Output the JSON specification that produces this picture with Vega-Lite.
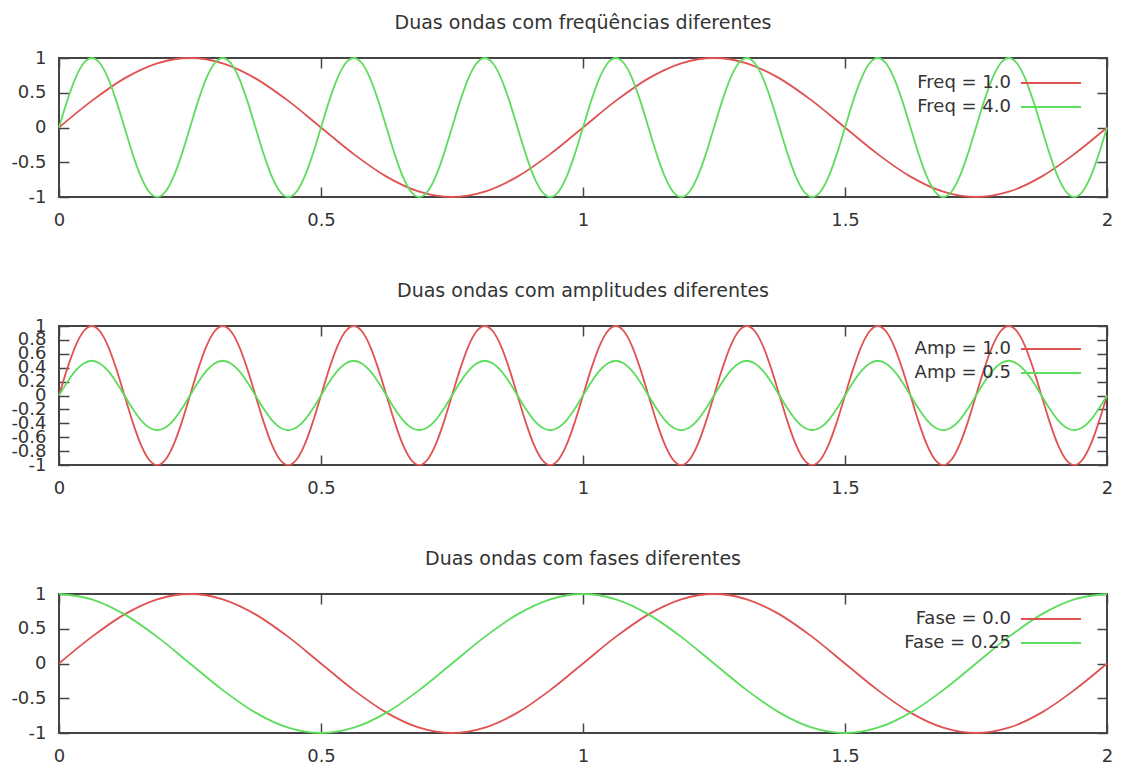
{
  "$schema": "https://vega.github.io/schema/vega-lite/v6.json",
  "padding": {"left": 9, "top": 13, "right": 5, "bottom": 5},
  "background": "white",
  "datasets": {
    "seno1": [
      {"x":0,"y":0},{"x":0.0625,"y":0.3827},{"x":0.125,"y":0.7071},{"x":0.1875,"y":0.9239},
      {"x":0.25,"y":1},{"x":0.3125,"y":0.9239},{"x":0.375,"y":0.7071},{"x":0.4375,"y":0.3827},
      {"x":0.5,"y":0},{"x":0.5625,"y":-0.3827},{"x":0.625,"y":-0.7071},{"x":0.6875,"y":-0.9239},
      {"x":0.75,"y":-1},{"x":0.8125,"y":-0.9239},{"x":0.875,"y":-0.7071},{"x":0.9375,"y":-0.3827},
      {"x":1,"y":0},{"x":1.0625,"y":0.3827},{"x":1.125,"y":0.7071},{"x":1.1875,"y":0.9239},
      {"x":1.25,"y":1},{"x":1.3125,"y":0.9239},{"x":1.375,"y":0.7071},{"x":1.4375,"y":0.3827},
      {"x":1.5,"y":0},{"x":1.5625,"y":-0.3827},{"x":1.625,"y":-0.7071},{"x":1.6875,"y":-0.9239},
      {"x":1.75,"y":-1},{"x":1.8125,"y":-0.9239},{"x":1.875,"y":-0.7071},{"x":1.9375,"y":-0.3827},
      {"x":2,"y":0}
    ],
    "cosseno1": [
      {"x":0,"y":1},{"x":0.0625,"y":0.9239},{"x":0.125,"y":0.7071},{"x":0.1875,"y":0.3827},
      {"x":0.25,"y":0},{"x":0.3125,"y":-0.3827},{"x":0.375,"y":-0.7071},{"x":0.4375,"y":-0.9239},
      {"x":0.5,"y":-1},{"x":0.5625,"y":-0.9239},{"x":0.625,"y":-0.7071},{"x":0.6875,"y":-0.3827},
      {"x":0.75,"y":0},{"x":0.8125,"y":0.3827},{"x":0.875,"y":0.7071},{"x":0.9375,"y":0.9239},
      {"x":1,"y":1},{"x":1.0625,"y":0.9239},{"x":1.125,"y":0.7071},{"x":1.1875,"y":0.3827},
      {"x":1.25,"y":0},{"x":1.3125,"y":-0.3827},{"x":1.375,"y":-0.7071},{"x":1.4375,"y":-0.9239},
      {"x":1.5,"y":-1},{"x":1.5625,"y":-0.9239},{"x":1.625,"y":-0.7071},{"x":1.6875,"y":-0.3827},
      {"x":1.75,"y":0},{"x":1.8125,"y":0.3827},{"x":1.875,"y":0.7071},{"x":1.9375,"y":0.9239},
      {"x":2,"y":1}
    ],
    "seno4": [
      {"x":0,"y":0},{"x":0.015625,"y":0.3827},{"x":0.03125,"y":0.7071},{"x":0.046875,"y":0.9239},
      {"x":0.0625,"y":1},{"x":0.078125,"y":0.9239},{"x":0.09375,"y":0.7071},{"x":0.109375,"y":0.3827},
      {"x":0.125,"y":0},{"x":0.140625,"y":-0.3827},{"x":0.15625,"y":-0.7071},{"x":0.171875,"y":-0.9239},
      {"x":0.1875,"y":-1},{"x":0.203125,"y":-0.9239},{"x":0.21875,"y":-0.7071},{"x":0.234375,"y":-0.3827},
      {"x":0.25,"y":0},{"x":0.265625,"y":0.3827},{"x":0.28125,"y":0.7071},{"x":0.296875,"y":0.9239},
      {"x":0.3125,"y":1},{"x":0.328125,"y":0.9239},{"x":0.34375,"y":0.7071},{"x":0.359375,"y":0.3827},
      {"x":0.375,"y":0},{"x":0.390625,"y":-0.3827},{"x":0.40625,"y":-0.7071},{"x":0.421875,"y":-0.9239},
      {"x":0.4375,"y":-1},{"x":0.453125,"y":-0.9239},{"x":0.46875,"y":-0.7071},{"x":0.484375,"y":-0.3827},
      {"x":0.5,"y":0},{"x":0.515625,"y":0.3827},{"x":0.53125,"y":0.7071},{"x":0.546875,"y":0.9239},
      {"x":0.5625,"y":1},{"x":0.578125,"y":0.9239},{"x":0.59375,"y":0.7071},{"x":0.609375,"y":0.3827},
      {"x":0.625,"y":0},{"x":0.640625,"y":-0.3827},{"x":0.65625,"y":-0.7071},{"x":0.671875,"y":-0.9239},
      {"x":0.6875,"y":-1},{"x":0.703125,"y":-0.9239},{"x":0.71875,"y":-0.7071},{"x":0.734375,"y":-0.3827},
      {"x":0.75,"y":0},{"x":0.765625,"y":0.3827},{"x":0.78125,"y":0.7071},{"x":0.796875,"y":0.9239},
      {"x":0.8125,"y":1},{"x":0.828125,"y":0.9239},{"x":0.84375,"y":0.7071},{"x":0.859375,"y":0.3827},
      {"x":0.875,"y":0},{"x":0.890625,"y":-0.3827},{"x":0.90625,"y":-0.7071},{"x":0.921875,"y":-0.9239},
      {"x":0.9375,"y":-1},{"x":0.953125,"y":-0.9239},{"x":0.96875,"y":-0.7071},{"x":0.984375,"y":-0.3827},
      {"x":1,"y":0},{"x":1.015625,"y":0.3827},{"x":1.03125,"y":0.7071},{"x":1.046875,"y":0.9239},
      {"x":1.0625,"y":1},{"x":1.078125,"y":0.9239},{"x":1.09375,"y":0.7071},{"x":1.109375,"y":0.3827},
      {"x":1.125,"y":0},{"x":1.140625,"y":-0.3827},{"x":1.15625,"y":-0.7071},{"x":1.171875,"y":-0.9239},
      {"x":1.1875,"y":-1},{"x":1.203125,"y":-0.9239},{"x":1.21875,"y":-0.7071},{"x":1.234375,"y":-0.3827},
      {"x":1.25,"y":0},{"x":1.265625,"y":0.3827},{"x":1.28125,"y":0.7071},{"x":1.296875,"y":0.9239},
      {"x":1.3125,"y":1},{"x":1.328125,"y":0.9239},{"x":1.34375,"y":0.7071},{"x":1.359375,"y":0.3827},
      {"x":1.375,"y":0},{"x":1.390625,"y":-0.3827},{"x":1.40625,"y":-0.7071},{"x":1.421875,"y":-0.9239},
      {"x":1.4375,"y":-1},{"x":1.453125,"y":-0.9239},{"x":1.46875,"y":-0.7071},{"x":1.484375,"y":-0.3827},
      {"x":1.5,"y":0},{"x":1.515625,"y":0.3827},{"x":1.53125,"y":0.7071},{"x":1.546875,"y":0.9239},
      {"x":1.5625,"y":1},{"x":1.578125,"y":0.9239},{"x":1.59375,"y":0.7071},{"x":1.609375,"y":0.3827},
      {"x":1.625,"y":0},{"x":1.640625,"y":-0.3827},{"x":1.65625,"y":-0.7071},{"x":1.671875,"y":-0.9239},
      {"x":1.6875,"y":-1},{"x":1.703125,"y":-0.9239},{"x":1.71875,"y":-0.7071},{"x":1.734375,"y":-0.3827},
      {"x":1.75,"y":0},{"x":1.765625,"y":0.3827},{"x":1.78125,"y":0.7071},{"x":1.796875,"y":0.9239},
      {"x":1.8125,"y":1},{"x":1.828125,"y":0.9239},{"x":1.84375,"y":0.7071},{"x":1.859375,"y":0.3827},
      {"x":1.875,"y":0},{"x":1.890625,"y":-0.3827},{"x":1.90625,"y":-0.7071},{"x":1.921875,"y":-0.9239},
      {"x":1.9375,"y":-1},{"x":1.953125,"y":-0.9239},{"x":1.96875,"y":-0.7071},{"x":1.984375,"y":-0.3827},
      {"x":2,"y":0}
    ],
    "seno4meia": [
      {"x":0,"y":0},{"x":0.015625,"y":0.1913},{"x":0.03125,"y":0.3536},{"x":0.046875,"y":0.4619},
      {"x":0.0625,"y":0.5},{"x":0.078125,"y":0.4619},{"x":0.09375,"y":0.3536},{"x":0.109375,"y":0.1913},
      {"x":0.125,"y":0},{"x":0.140625,"y":-0.1913},{"x":0.15625,"y":-0.3536},{"x":0.171875,"y":-0.4619},
      {"x":0.1875,"y":-0.5},{"x":0.203125,"y":-0.4619},{"x":0.21875,"y":-0.3536},{"x":0.234375,"y":-0.1913},
      {"x":0.25,"y":0},{"x":0.265625,"y":0.1913},{"x":0.28125,"y":0.3536},{"x":0.296875,"y":0.4619},
      {"x":0.3125,"y":0.5},{"x":0.328125,"y":0.4619},{"x":0.34375,"y":0.3536},{"x":0.359375,"y":0.1913},
      {"x":0.375,"y":0},{"x":0.390625,"y":-0.1913},{"x":0.40625,"y":-0.3536},{"x":0.421875,"y":-0.4619},
      {"x":0.4375,"y":-0.5},{"x":0.453125,"y":-0.4619},{"x":0.46875,"y":-0.3536},{"x":0.484375,"y":-0.1913},
      {"x":0.5,"y":0},{"x":0.515625,"y":0.1913},{"x":0.53125,"y":0.3536},{"x":0.546875,"y":0.4619},
      {"x":0.5625,"y":0.5},{"x":0.578125,"y":0.4619},{"x":0.59375,"y":0.3536},{"x":0.609375,"y":0.1913},
      {"x":0.625,"y":0},{"x":0.640625,"y":-0.1913},{"x":0.65625,"y":-0.3536},{"x":0.671875,"y":-0.4619},
      {"x":0.6875,"y":-0.5},{"x":0.703125,"y":-0.4619},{"x":0.71875,"y":-0.3536},{"x":0.734375,"y":-0.1913},
      {"x":0.75,"y":0},{"x":0.765625,"y":0.1913},{"x":0.78125,"y":0.3536},{"x":0.796875,"y":0.4619},
      {"x":0.8125,"y":0.5},{"x":0.828125,"y":0.4619},{"x":0.84375,"y":0.3536},{"x":0.859375,"y":0.1913},
      {"x":0.875,"y":0},{"x":0.890625,"y":-0.1913},{"x":0.90625,"y":-0.3536},{"x":0.921875,"y":-0.4619},
      {"x":0.9375,"y":-0.5},{"x":0.953125,"y":-0.4619},{"x":0.96875,"y":-0.3536},{"x":0.984375,"y":-0.1913},
      {"x":1,"y":0},{"x":1.015625,"y":0.1913},{"x":1.03125,"y":0.3536},{"x":1.046875,"y":0.4619},
      {"x":1.0625,"y":0.5},{"x":1.078125,"y":0.4619},{"x":1.09375,"y":0.3536},{"x":1.109375,"y":0.1913},
      {"x":1.125,"y":0},{"x":1.140625,"y":-0.1913},{"x":1.15625,"y":-0.3536},{"x":1.171875,"y":-0.4619},
      {"x":1.1875,"y":-0.5},{"x":1.203125,"y":-0.4619},{"x":1.21875,"y":-0.3536},{"x":1.234375,"y":-0.1913},
      {"x":1.25,"y":0},{"x":1.265625,"y":0.1913},{"x":1.28125,"y":0.3536},{"x":1.296875,"y":0.4619},
      {"x":1.3125,"y":0.5},{"x":1.328125,"y":0.4619},{"x":1.34375,"y":0.3536},{"x":1.359375,"y":0.1913},
      {"x":1.375,"y":0},{"x":1.390625,"y":-0.1913},{"x":1.40625,"y":-0.3536},{"x":1.421875,"y":-0.4619},
      {"x":1.4375,"y":-0.5},{"x":1.453125,"y":-0.4619},{"x":1.46875,"y":-0.3536},{"x":1.484375,"y":-0.1913},
      {"x":1.5,"y":0},{"x":1.515625,"y":0.1913},{"x":1.53125,"y":0.3536},{"x":1.546875,"y":0.4619},
      {"x":1.5625,"y":0.5},{"x":1.578125,"y":0.4619},{"x":1.59375,"y":0.3536},{"x":1.609375,"y":0.1913},
      {"x":1.625,"y":0},{"x":1.640625,"y":-0.1913},{"x":1.65625,"y":-0.3536},{"x":1.671875,"y":-0.4619},
      {"x":1.6875,"y":-0.5},{"x":1.703125,"y":-0.4619},{"x":1.71875,"y":-0.3536},{"x":1.734375,"y":-0.1913},
      {"x":1.75,"y":0},{"x":1.765625,"y":0.1913},{"x":1.78125,"y":0.3536},{"x":1.796875,"y":0.4619},
      {"x":1.8125,"y":0.5},{"x":1.828125,"y":0.4619},{"x":1.84375,"y":0.3536},{"x":1.859375,"y":0.1913},
      {"x":1.875,"y":0},{"x":1.890625,"y":-0.1913},{"x":1.90625,"y":-0.3536},{"x":1.921875,"y":-0.4619},
      {"x":1.9375,"y":-0.5},{"x":1.953125,"y":-0.4619},{"x":1.96875,"y":-0.3536},{"x":1.984375,"y":-0.1913},
      {"x":2,"y":0}
    ]
  },
  "vconcat": [
    {
      "title": {"text": "Duas ondas com freqüências diferentes"},
      "width": 1048,
      "height": 139,
      "layer": [
        {
          "data": {"name": "seno1"},
          "mark": {"type": "line", "interpolate": "monotone", "strokeWidth": 1.8},
          "encoding": {
            "x": {"field": "x", "type": "quantitative", "scale": {"domain": [0, 2], "nice": false},
                  "axis": {"orient": "bottom", "title": null, "values": [0, 0.5, 1, 1.5, 2], "labelExpr": "datum.value + ''"}},
            "y": {"field": "y", "type": "quantitative", "scale": {"domain": [-1, 1], "nice": false},
                  "axis": {"orient": "left", "title": null, "values": [-1, -0.5, 0, 0.5, 1], "labelExpr": "datum.value + ''"}},
            "color": {"datum": "Freq = 1.0", "type": "nominal",
                      "scale": {"domain": ["Freq = 1.0", "Freq = 4.0"], "range": ["#e05252", "#5ddc5d"]},
                      "legend": {"orient": "none", "legendX": 983, "legendY": 16, "title": null}}
          }
        },
        {
          "data": {"name": "seno4"},
          "mark": {"type": "line", "interpolate": "monotone", "strokeWidth": 1.8},
          "encoding": {
            "x": {"field": "x", "type": "quantitative",
                  "axis": {"orient": "top", "title": null, "labels": false, "values": [0, 0.5, 1, 1.5, 2]}},
            "y": {"field": "y", "type": "quantitative",
                  "axis": {"orient": "right", "title": null, "labels": false, "values": [-1, -0.5, 0, 0.5, 1]}},
            "color": {"datum": "Freq = 4.0", "type": "nominal"}
          }
        }
      ],
      "resolve": {"axis": {"x": "independent", "y": "independent"}}
    },
    {
      "title": {"text": "Duas ondas com amplitudes diferentes"},
      "width": 1048,
      "height": 139,
      "layer": [
        {
          "data": {"name": "seno4"},
          "mark": {"type": "line", "interpolate": "monotone", "strokeWidth": 1.8},
          "encoding": {
            "x": {"field": "x", "type": "quantitative", "scale": {"domain": [0, 2], "nice": false},
                  "axis": {"orient": "bottom", "title": null, "values": [0, 0.5, 1, 1.5, 2], "labelExpr": "datum.value + ''"}},
            "y": {"field": "y", "type": "quantitative", "scale": {"domain": [-1, 1], "nice": false},
                  "axis": {"orient": "left", "title": null, "values": [-1, -0.8, -0.6, -0.4, -0.2, 0, 0.2, 0.4, 0.6, 0.8, 1], "labelExpr": "datum.value + ''"}},
            "color": {"datum": "Amp = 1.0", "type": "nominal",
                      "scale": {"domain": ["Amp = 1.0", "Amp = 0.5"], "range": ["#e05252", "#5ddc5d"]},
                      "legend": {"orient": "none", "legendX": 983, "legendY": 14, "title": null}}
          }
        },
        {
          "data": {"name": "seno4meia"},
          "mark": {"type": "line", "interpolate": "monotone", "strokeWidth": 1.8},
          "encoding": {
            "x": {"field": "x", "type": "quantitative",
                  "axis": {"orient": "top", "title": null, "labels": false, "values": [0, 0.5, 1, 1.5, 2]}},
            "y": {"field": "y", "type": "quantitative",
                  "axis": {"orient": "right", "title": null, "labels": false, "values": [-1, -0.8, -0.6, -0.4, -0.2, 0, 0.2, 0.4, 0.6, 0.8, 1]}},
            "color": {"datum": "Amp = 0.5", "type": "nominal"}
          }
        }
      ],
      "resolve": {"axis": {"x": "independent", "y": "independent"}}
    },
    {
      "title": {"text": "Duas ondas com fases diferentes"},
      "width": 1048,
      "height": 139,
      "layer": [
        {
          "data": {"name": "seno1"},
          "mark": {"type": "line", "interpolate": "monotone", "strokeWidth": 1.8},
          "encoding": {
            "x": {"field": "x", "type": "quantitative", "scale": {"domain": [0, 2], "nice": false},
                  "axis": {"orient": "bottom", "title": null, "values": [0, 0.5, 1, 1.5, 2], "labelExpr": "datum.value + ''"}},
            "y": {"field": "y", "type": "quantitative", "scale": {"domain": [-1, 1], "nice": false},
                  "axis": {"orient": "left", "title": null, "values": [-1, -0.5, 0, 0.5, 1], "labelExpr": "datum.value + ''"}},
            "color": {"datum": "Fase = 0.0", "type": "nominal",
                      "scale": {"domain": ["Fase = 0.0", "Fase = 0.25"], "range": ["#e05252", "#5ddc5d"]},
                      "legend": {"orient": "none", "legendX": 983, "legendY": 16, "title": null}}
          }
        },
        {
          "data": {"name": "cosseno1"},
          "mark": {"type": "line", "interpolate": "monotone", "strokeWidth": 1.8},
          "encoding": {
            "x": {"field": "x", "type": "quantitative",
                  "axis": {"orient": "top", "title": null, "labels": false, "values": [0, 0.5, 1, 1.5, 2]}},
            "y": {"field": "y", "type": "quantitative",
                  "axis": {"orient": "right", "title": null, "labels": false, "values": [-1, -0.5, 0, 0.5, 1]}},
            "color": {"datum": "Fase = 0.25", "type": "nominal"}
          }
        }
      ],
      "resolve": {"axis": {"x": "independent", "y": "independent"}}
    }
  ],
  "spacing": 129,
  "bounds": "flush",
  "resolve": {"scale": {"color": "independent"}},
  "config": {
    "font": "DejaVu Sans",
    "view": {"stroke": "#444", "strokeWidth": 2},
    "title": {"fontSize": 19, "fontWeight": "normal", "color": "#333", "offset": 16, "anchor": "middle", "frame": "group"},
    "axis": {
      "domain": false, "grid": false,
      "tickSize": -10, "tickColor": "#444", "tickWidth": 1.5,
      "labelFontSize": 18, "labelColor": "#333", "labelFont": "DejaVu Sans",
      "labelFlush": false, "labelOverlap": false, "labelBound": false
    },
    "axisBottom": {"labelPadding": 24},
    "axisLeft": {"labelPadding": 23},
    "legend": {
      "symbolType": "M-6,0H6", "symbolSize": 100, "symbolStrokeWidth": 2,
      "symbolFillColor": "transparent",
      "labelAlign": "right", "labelOffset": -49, "labelFontSize": 18, "labelColor": "#333",
      "labelLimit": 0, "rowPadding": 6, "padding": 0
    }
  }
}
